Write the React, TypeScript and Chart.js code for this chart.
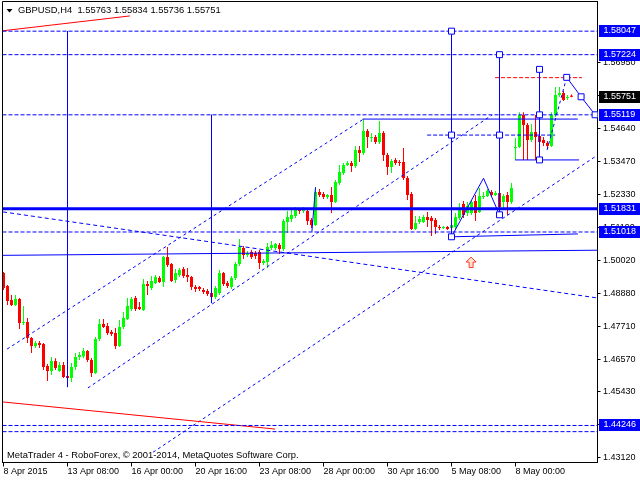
import { useEffect, useRef } from "react";
import { Chart, registerables } from "chart.js";
Chart.register(...registerables);

const symbol = "GBPUSD";
const timeframe = "H4";
const copyright = "MetaTrader 4 - RoboForex, © 2001-2014, MetaQuotes Software Corp.";
const dateLabels = ["8 Apr 2015", "13 Apr 08:00", "16 Apr 00:00", "20 Apr 16:00", "23 Apr 08:00", "28 Apr 00:00", "30 Apr 16:00", "5 May 08:00", "8 May 00:00"];
const priceTicks = [1.5695, 1.558, 1.5464, 1.5347, 1.5233, 1.5119, 1.5002, 1.4888, 1.4771, 1.4657, 1.4543, 1.4428, 1.4312];

const opens = [1.4958,1.4913,1.4864,1.4846,1.4867,1.4783,1.4787,1.4731,1.4703,1.4713,1.4710,1.4633,1.4615,1.4650,1.4615,1.4636,1.4598,1.4591,1.4629,1.4664,1.4667,1.4685,1.4654,1.4608,1.4727,1.4780,1.4773,1.4752,1.4748,1.4703,1.4769,1.4797,1.4832,1.4871,1.4839,1.4829,1.4920,1.4906,1.4923,1.4941,1.4927,1.5014,1.4990,1.4934,1.4951,1.4972,1.4951,1.4944,1.4909,1.4909,1.4899,1.4895,1.4888,1.4874,1.4888,1.4958,1.4923,1.4909,1.4941,1.4990,1.5046,1.5021,1.5032,1.5028,1.5032,1.4993,1.4997,1.5046,1.5046,1.5056,1.5042,1.5137,1.5147,1.5158,1.5179,1.5175,1.5175,1.5144,1.5126,1.5242,1.5235,1.5224,1.5231,1.5207,1.5273,1.5308,1.5336,1.5343,1.5333,1.5389,1.5378,1.5455,1.5431,1.5434,1.5417,1.5448,1.5371,1.5329,1.5354,1.5347,1.5347,1.5291,1.5235,1.5112,1.5137,1.5137,1.5154,1.5151,1.5144,1.5119,1.5116,1.5119,1.5116,1.5119,1.5151,1.5200,1.5168,1.5168,1.5210,1.5172,1.5224,1.5228,1.5242,1.5231,1.5238,1.5207,1.5231,1.5207,1.5396,1.5399,1.5511,1.5476,1.5424,1.5452,1.5438,1.5424,1.5413,1.5403,1.5511,1.5581,1.5588,1.5571,1.55763];
const highs = [1.4962,1.4916,1.4881,1.4881,1.4871,1.4843,1.4801,1.4734,1.4720,1.4720,1.4713,1.4640,1.4664,1.4660,1.4647,1.4647,1.4605,1.4643,1.4678,1.4682,1.4696,1.4689,1.4661,1.4734,1.4797,1.4797,1.4783,1.4759,1.4766,1.4794,1.4822,1.4871,1.4874,1.4878,1.4857,1.4937,1.4930,1.4948,1.4951,1.4948,1.5018,1.5049,1.4993,1.4972,1.4976,1.4979,1.4976,1.4948,1.4916,1.4913,1.4906,1.4902,1.4895,1.4913,1.4969,1.4962,1.4930,1.4948,1.4997,1.5077,1.5053,1.5035,1.5039,1.5035,1.5039,1.5007,1.5063,1.5070,1.5063,1.5063,1.5147,1.5175,1.5182,1.5189,1.5182,1.5189,1.5182,1.5151,1.5259,1.5252,1.5242,1.5235,1.5259,1.5284,1.5336,1.5343,1.5350,1.5350,1.5403,1.5403,1.5497,1.5462,1.5448,1.5441,1.5490,1.5455,1.5378,1.5357,1.5361,1.5354,1.5396,1.5298,1.5242,1.5158,1.5158,1.5161,1.5172,1.5158,1.5151,1.5126,1.5123,1.5123,1.5133,1.5168,1.5203,1.5210,1.5207,1.5214,1.5231,1.5256,1.5242,1.5252,1.5249,1.5245,1.5242,1.5235,1.5242,1.5273,1.5431,1.5521,1.5521,1.5483,1.5480,1.5511,1.5452,1.5434,1.5420,1.5521,1.5609,1.5609,1.5595,1.5581,1.55834];
const lows = [1.4899,1.4846,1.4843,1.4843,1.4762,1.4776,1.4713,1.4678,1.4696,1.4696,1.4619,1.4580,1.4601,1.4619,1.4612,1.4591,1.4559,1.4577,1.4619,1.4654,1.4660,1.4647,1.4594,1.4605,1.4720,1.4766,1.4741,1.4738,1.4692,1.4699,1.4762,1.4794,1.4825,1.4825,1.4829,1.4825,1.4881,1.4899,1.4920,1.4923,1.4909,1.4979,1.4927,1.4923,1.4944,1.4941,1.4927,1.4899,1.4892,1.4895,1.4885,1.4878,1.4871,1.4867,1.4881,1.4913,1.4906,1.4902,1.4934,1.4983,1.5007,1.5014,1.5007,1.5007,1.4972,1.4986,1.4976,1.5039,1.5039,1.5025,1.5035,1.5098,1.5137,1.5151,1.5165,1.5168,1.5126,1.5116,1.5123,1.5224,1.5217,1.5217,1.5168,1.5203,1.5266,1.5301,1.5333,1.5312,1.5326,1.5347,1.5371,1.5396,1.5417,1.5410,1.5410,1.5350,1.5301,1.5308,1.5336,1.5333,1.5284,1.5214,1.5109,1.5109,1.5130,1.5133,1.5119,1.5088,1.5095,1.5109,1.5112,1.5109,1.5088,1.5112,1.5144,1.5151,1.5158,1.5161,1.5140,1.5168,1.5217,1.5224,1.5224,1.5228,1.5168,1.5186,1.5161,1.5200,1.5354,1.5396,1.5354,1.5354,1.5417,1.5354,1.5406,1.5403,1.5396,1.5399,1.5504,1.5574,1.5560,1.5564,1.55736];
const closes = [1.4906,1.4860,1.4846,1.4867,1.4783,1.4787,1.4731,1.4703,1.4713,1.4706,1.4629,1.4615,1.4650,1.4626,1.4636,1.4594,1.4591,1.4629,1.4664,1.4671,1.4685,1.4654,1.4608,1.4727,1.4780,1.4769,1.4748,1.4745,1.4703,1.4769,1.4801,1.4843,1.4867,1.4832,1.4832,1.4920,1.4913,1.4930,1.4944,1.4927,1.5014,1.4986,1.4930,1.4958,1.4969,1.4948,1.4944,1.4909,1.4902,1.4902,1.4892,1.4885,1.4874,1.4906,1.4958,1.4920,1.4913,1.4941,1.4990,1.5049,1.5021,1.5028,1.5014,1.5018,1.4993,1.5000,1.5049,1.5056,1.5060,1.5042,1.5140,1.5154,1.5161,1.5182,1.5175,1.5182,1.5140,1.5126,1.5242,1.5231,1.5224,1.5231,1.5207,1.5277,1.5312,1.5336,1.5343,1.5333,1.5389,1.5378,1.5455,1.5434,1.5434,1.5417,1.5448,1.5371,1.5329,1.5350,1.5343,1.5343,1.5291,1.5231,1.5112,1.5133,1.5147,1.5154,1.5144,1.5140,1.5119,1.5116,1.5119,1.5112,1.5126,1.5154,1.5186,1.5161,1.5193,1.5207,1.5168,1.5228,1.5228,1.5245,1.5231,1.5238,1.5189,1.5228,1.5207,1.5256,1.5399,1.5511,1.5476,1.5424,1.5452,1.5434,1.5417,1.5413,1.5403,1.5511,1.5581,1.5588,1.5564,1.5574,1.55751];

// analysis objects: [bar index, price]
const dashedLevels = [1.58047, 1.57224, 1.55119, 1.51018, 1.44246, 1.4403];
const thickLevel = 1.51831;
const labelLevels = [1.58047, 1.57224, 1.55119, 1.51831, 1.51018, 1.44246];
const redTrendTop = [[-0.2, 1.5806], [31.6, 1.5858]];
const redTrendBottom = [[-0.2, 1.4507], [67.9, 1.4412]];
const channelUpper = [[0.9, 1.4692], [90, 1.5497]];
const channelLower = [[21.1, 1.4556], [122.1, 1.5511]];
const supportRay = [[37.4, 1.4331], [148.4, 1.537]];
const fallingLine = [[-0.1, 1.5172], [148.4, 1.4871]];
const flatLine = [[-0.25, 1.502], [148.5, 1.5038]];
const rangeTop = [[89.8, 1.5497], [143.6, 1.5497]];
const rangeBottom = [[127.9, 1.5354], [143.9, 1.5354]];
const lowLine = [[112, 1.5085], [143.6, 1.5095]];
const midDashed = [[105.9, 1.5441], [137.9, 1.5441]];
const redTarget = [[122.9, 1.5642], [144.6, 1.5642]];
const verticals = [[16, 1.58047, 1.4559], [52, 1.55119, 1.4853], [112, 1.58047, 1.5085], [124, 1.57224, 1.5162], [134, 1.5671, 1.5354]];
const triangle = [[112, 1.5085], [120, 1.529], [124, 1.5162]];
const spike = [[77.1, 1.5103], [78, 1.5258]];
const projDashed = [[135.9, 1.5389], [140.8, 1.5643]];
const projSolid = [[140.8, 1.5643], [144.4, 1.5575], [147.9, 1.5512]];
const markers = [[112, 1.58047], [112, 1.5441], [112, 1.5085], [124, 1.57224], [124, 1.5441], [124, 1.5162], [134, 1.5671], [134, 1.55119], [134, 1.5354], [140.8, 1.5643], [144.4, 1.5575], [147.9, 1.5512]];
const arrowAt = [116.9, 1.5014];

const BLUE = "#0000ff";
const RED = "#ff0000";
const GREEN = "#00ff00";
const FONT = "'Liberation Sans', Arial, sans-serif";
const X_MIN = -0.25;
const X_MAX = 148.5;

const pts = (a: number[][]) => a.map(([x, y]) => ({ x, y }));

function line(points: number[][], color: string, dash: number[] = [], width = 1) {
  return {
    type: "line" as const,
    data: pts(points),
    borderColor: color,
    borderWidth: width,
    borderDash: dash,
    pointRadius: 0,
    fill: false,
    tension: 0,
    order: 1,
  };
}

export default function App() {
  const ref = useRef<HTMLCanvasElement | null>(null);
  useEffect(() => {
    if (!ref.current) return;
    const colors = opens.map((o, i) => (closes[i] >= o ? GREEN : RED));
    const bodies = opens.map((o, i) => ({ x: i, y: [o, closes[i]] }));
    const wicks = opens.map((_, i) => ({ x: i, y: [lows[i], highs[i]] }));

    const datasets: any[] = [
      { type: "line", data: pts(markers), showLine: false, pointStyle: "rect", pointRadius: 4.2, pointBackgroundColor: "#fff", pointBorderColor: BLUE, pointBorderWidth: 1, order: 0 },
      line(triangle, BLUE),
      line(projSolid, BLUE),
      line(projDashed, BLUE, [3, 3]),
      line(spike, BLUE),
      ...verticals.map(([i, a, b]) => line([[i, a], [i, b]], BLUE)),
      line([[X_MIN, thickLevel], [X_MAX, thickLevel]], BLUE, [], 3),
      ...dashedLevels.map((v) => line([[X_MIN, v], [X_MAX, v]], BLUE, [4, 2])),
      line(flatLine, BLUE),
      line(rangeTop, BLUE),
      line(rangeBottom, BLUE),
      line(lowLine, BLUE),
      line(midDashed, BLUE, [4, 2]),
      line(redTarget, RED, [4, 2]),
      line(redTrendTop, RED),
      line(redTrendBottom, RED),
      line(channelUpper, BLUE, [3, 3]),
      line(channelLower, BLUE, [3, 3]),
      line(supportRay, BLUE, [3, 3]),
      line(fallingLine, BLUE, [4, 3]),
      { type: "bar", data: bodies, backgroundColor: colors, barThickness: 3, minBarLength: 1, grouped: false, borderWidth: 0, inflateAmount: 0, order: 19 },
      { type: "bar", data: wicks, backgroundColor: colors, barThickness: 1, grouped: false, borderWidth: 0, inflateAmount: 0, order: 20 },
    ];

    const mt4Plugin = {
      id: "mt4",
      beforeDraw(chart: any) {
        const c = chart.ctx;
        c.save();
        c.fillStyle = "#fff";
        c.fillRect(0, 0, chart.width, chart.height);
        c.restore();
      },
      afterDraw(chart: any) {
        const c = chart.ctx;
        const a = chart.chartArea;
        const xs = chart.scales.x;
        const ys = chart.scales.y;
        c.save();
        // frame
        c.strokeStyle = "#000";
        c.lineWidth = 1;
        c.beginPath();
        c.moveTo(a.left, a.bottom);
        c.lineTo(a.left, a.top);
        c.lineTo(a.right, a.top);
        c.stroke();
        // arrow
        const ax = xs.getPixelForValue(arrowAt[0]);
        const ay = ys.getPixelForValue(arrowAt[1]);
        c.beginPath();
        c.moveTo(ax, ay);
        c.lineTo(ax + 5, ay + 5);
        c.lineTo(ax + 2, ay + 5);
        c.lineTo(ax + 2, ay + 10.5);
        c.lineTo(ax - 2, ay + 10.5);
        c.lineTo(ax - 2, ay + 5);
        c.lineTo(ax - 5, ay + 5);
        c.closePath();
        c.fillStyle = "#ffe2d2";
        c.fill();
        c.strokeStyle = "#ff3a2a";
        c.stroke();
        // header
        c.fillStyle = "#000";
        c.beginPath();
        c.moveTo(6.5, 9);
        c.lineTo(12.5, 9);
        c.lineTo(9.5, 12.5);
        c.closePath();
        c.fill();
        const n = opens.length - 1;
        const header = `${symbol},${timeframe}  ${opens[n].toFixed(5)} ${highs[n].toFixed(5)} ${lows[n].toFixed(5)} ${closes[n].toFixed(5)}`;
        c.font = `9.4px ${FONT}`;
        c.textBaseline = "middle";
        c.textAlign = "left";
        c.fillText(header, 18, 10.5);
        c.fillText(copyright, 7, 455);
        // price labels
        const box = (v: number, bg: string) => {
          const py = Math.round(ys.getPixelForValue(v));
          c.fillStyle = bg;
          c.fillRect(599, py - 6, 41, 12);
          c.fillStyle = "#fff";
          c.font = `9px ${FONT}`;
          c.fillText(v.toFixed(5), 603.5, py);
        };
        labelLevels.forEach((v) => box(v, BLUE));
        box(closes[n], "#000");
        c.restore();
      },
    };

    const chart = new Chart(ref.current, {
      type: "bar",
      data: { datasets },
      options: {
        animation: false,
        responsive: false,
        devicePixelRatio: 1,
        events: [],
        layout: { autoPadding: false, padding: { left: 2.5, top: 1.5, right: 0, bottom: 0 } },
        plugins: { legend: { display: false }, tooltip: { enabled: false } },
        scales: {
          x: {
            type: "linear",
            min: X_MIN,
            max: X_MAX,
            offset: false,
            grid: { offset: false, drawOnChartArea: false, drawTicks: true, tickLength: 4, color: "#000" },
            border: { display: true, color: "#000" },
            afterBuildTicks: (s: any) => {
              s.ticks = dateLabels.map((_, k) => ({ value: k * 16 }));
            },
            afterFit: (s: any) => {
              s.height = 17.5;
              s.paddingLeft = 0;
              s.paddingRight = 0;
            },
            ticks: {
              autoSkip: false,
              maxRotation: 0,
              minRotation: 0,
              align: "start",
              padding: 0,
              color: "#000",
              font: { family: FONT, size: 9 },
              callback: (v: any) => dateLabels[Math.round(Number(v) / 16)] ?? "",
            },
          },
          y: {
            type: "linear",
            position: "right",
            min: 1.4295,
            max: 1.59085,
            beginAtZero: false,
            grid: { drawOnChartArea: false, drawTicks: true, tickLength: 3, color: "#000" },
            border: { display: true, color: "#000" },
            afterBuildTicks: (s: any) => {
              s.ticks = priceTicks.map((v) => ({ value: v }));
            },
            afterFit: (s: any) => {
              s.width = 42.5;
              s.paddingTop = 0;
              s.paddingBottom = 0;
            },
            ticks: {
              padding: 2.5,
              color: "#000",
              font: { family: FONT, size: 9 },
              callback: (v: any) => Number(v).toFixed(5),
            },
          },
        },
      } as any,
      plugins: [mt4Plugin],
    });
    return () => chart.destroy();
  }, []);

  return (
    <div style={{ position: "absolute", left: 0, top: 0, width: 640, height: 480, background: "#fff" }}>
      <canvas ref={ref} width={640} height={480} style={{ display: "block" }} />
    </div>
  );
}
